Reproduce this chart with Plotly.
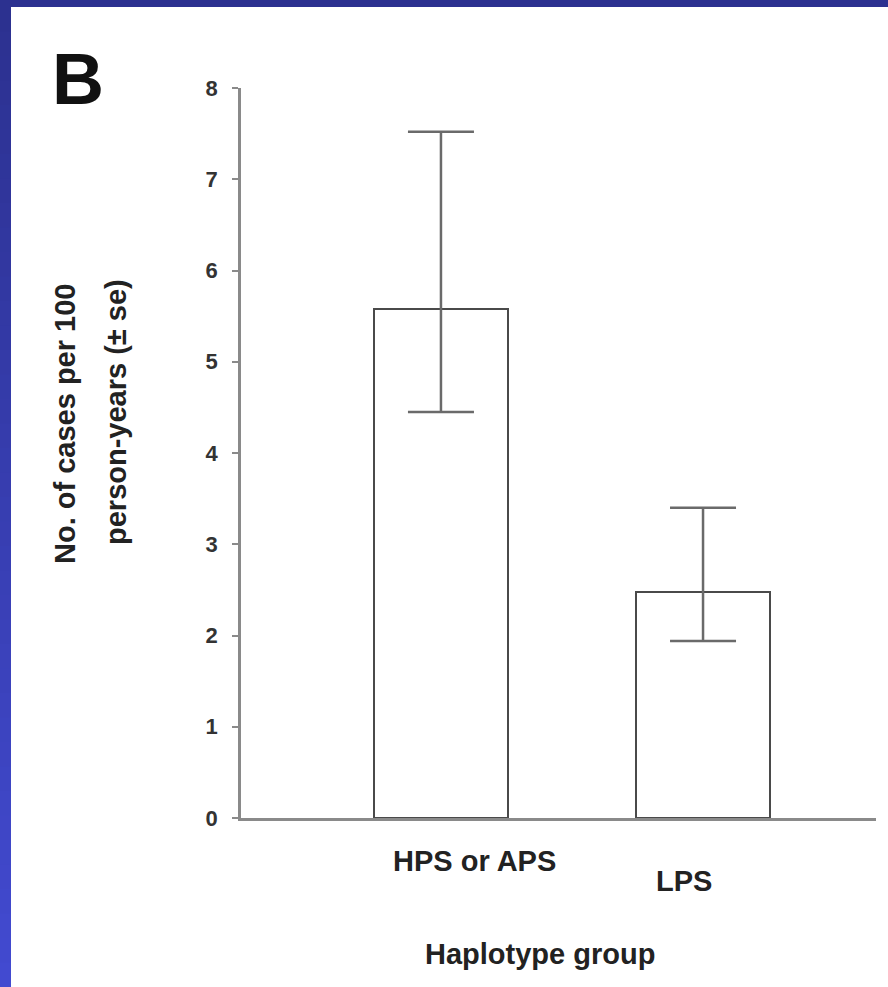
import plotly.graph_objects as go

# ---- data ----
categories = ["HPS or APS", "LPS"]
rates = [5.58, 2.48]
err_upper = [7.52, 3.40]
err_lower = [4.45, 1.94]
y_ticks = [0, 1, 2, 3, 4, 5, 6, 7, 8]
panel_label = "B"
x_title = "Haplotype group"
y_title_lines = ["No. of cases per 100", "person-years (± se)"]

err_plus = [u - v for u, v in zip(err_upper, rates)]
err_minus = [v - l for v, l in zip(rates, err_lower)]

W, H = 888, 987
L, R, T, B = 241, 12, 88, 169
pw, ph = W - L - R, H - T - B


def px_x(p):
    return (p - L) / pw


def px_y(p):
    return (H - B - p) / ph


FONT = "Liberation Sans, Arial, sans-serif"
TS = 29

fig = go.Figure()
fig.add_trace(go.Bar(
    x=categories, y=rates, width=0.508,
    marker=dict(color="white", line=dict(color="#4a4a4a", width=2)),
    error_y=dict(type="data", symmetric=False, array=err_plus, arrayminus=err_minus,
                 color="#6a6a6a", thickness=2.5, width=33),
    showlegend=False, hoverinfo="skip",
))

shapes = []
# top dark bar
shapes.append(dict(type="rect", xref="paper", yref="paper",
                   x0=px_x(-5), x1=px_x(W + 5), y0=px_y(7), y1=px_y(-5),
                   fillcolor="#2c3190", line=dict(width=0), layer="above"))
# left gradient strip
n = 40
c0 = (0x2c, 0x31, 0x90)
c1 = (0x42, 0x4a, 0xd0)
for i in range(n):
    t = i / (n - 1)
    col = "rgb(%d,%d,%d)" % tuple(round(a + (b - a) * t) for a, b in zip(c0, c1))
    ya = 7 + (H - 7) * i / n
    yb = 7 + (H - 7) * (i + 1) / n + 1
    shapes.append(dict(type="rect", xref="paper", yref="paper",
                       x0=px_x(-5), x1=px_x(11), y0=px_y(yb), y1=px_y(ya),
                       fillcolor=col, line=dict(width=0), layer="above"))

annotations = [
    dict(text="<b>%s</b>" % categories[0], xref="x", yref="paper", x=categories[0], xshift=34,
         y=px_y(861), yanchor="middle", xanchor="center", showarrow=False,
         font=dict(family=FONT, size=TS, color="#222")),
    dict(text="<b>%s</b>" % categories[1], xref="x", yref="paper", x=categories[1], xshift=-19,
         y=px_y(881), yanchor="middle", xanchor="center", showarrow=False,
         font=dict(family=FONT, size=TS, color="#222")),
    dict(text="<b>%s</b>" % x_title, xref="paper", yref="paper", x=px_x(540), y=px_y(954),
         xanchor="center", yanchor="middle", showarrow=False,
         font=dict(family=FONT, size=TS, color="#222")),
    dict(text="<b>%s</b>" % y_title_lines[0], xref="paper", yref="paper", x=px_x(65), y=px_y(282),
         xanchor="center", yanchor="top", textangle=-90, showarrow=False,
         font=dict(family=FONT, size=TS, color="#222")),
    dict(text="<b>%s</b>" % y_title_lines[1], xref="paper", yref="paper", x=px_x(116), y=px_y(277),
         xanchor="center", yanchor="top", textangle=-90, showarrow=False,
         font=dict(family=FONT, size=TS, color="#222")),
    dict(text="<b>%s</b>" % panel_label, xref="paper", yref="paper", x=px_x(78), y=px_y(79),
         xanchor="center", yanchor="middle", showarrow=False,
         font=dict(family=FONT, size=72, color="#111")),
]

fig.update_layout(
    width=W, height=H,
    margin=dict(l=L, r=R, t=T, b=B, pad=0),
    paper_bgcolor="white", plot_bgcolor="white",
    shapes=shapes, annotations=annotations,
    xaxis=dict(type="category", range=[-0.763, 1.660], showticklabels=False,
               showline=True, linecolor="#8a8a8a", linewidth=2.5, ticks="",
               showgrid=False, zeroline=False, fixedrange=True),
    yaxis=dict(range=[0, 8], tickvals=y_ticks, ticktext=["<b>%d</b>" % v for v in y_ticks],
               showline=True, linecolor="#8a8a8a", linewidth=2.5,
               ticks="outside", ticklen=6, tickwidth=2, tickcolor="#8a8a8a",
               ticklabelstandoff=10,
               tickfont=dict(family=FONT, size=22, color="#333"),
               showgrid=False, zeroline=False, fixedrange=True),
    bargap=0,
)

fig.write_html("out.html")
